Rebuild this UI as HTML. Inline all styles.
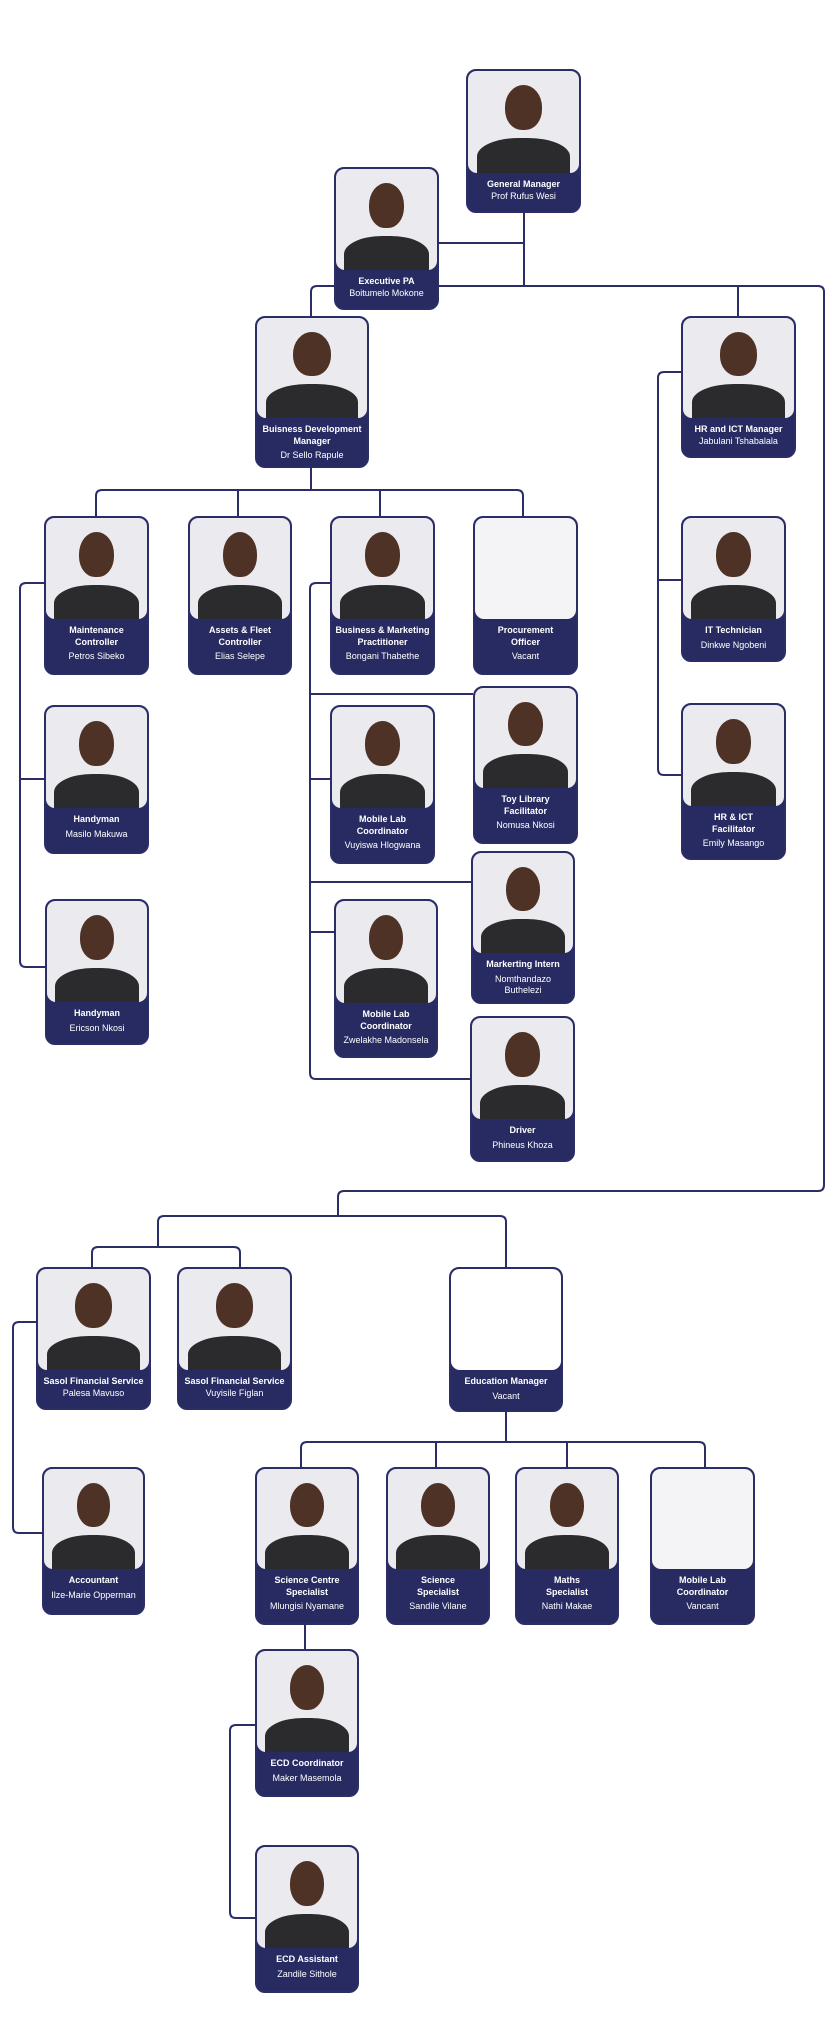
<!DOCTYPE html>
<html><head><meta charset="utf-8"><style>
html,body{margin:0;padding:0;background:#fff;}
body{width:838px;height:2030px;position:relative;overflow:hidden;font-family:"Liberation Sans",sans-serif;}
svg.l{position:absolute;left:0;top:0;}
.c{position:absolute;box-sizing:border-box;background:#282b62;border:2px solid #2b2e66;border-radius:10px;overflow:hidden;color:#fff;text-align:center;}
.p{position:relative;background:#ebebef;border-radius:8px 8px 9px 9px;overflow:hidden;}
.p.v{background:#f4f3f6;}
.p.w{background:#fff;}
.h{position:absolute;left:50%;top:14%;width:34%;height:44%;margin-left:-17%;background:#4e3226;border-radius:50% 50% 46% 46%;}
.b{position:absolute;left:8%;right:8%;bottom:-6%;height:40%;background:#2b2b2e;border-radius:45% 45% 0 0;}
.t{padding:6px 2px 0;font-size:9px;line-height:11.5px;}
.t b{display:block;}
.t span{display:block;margin-top:3px;}
</style></head><body>
<svg class="l" width="838" height="2030" fill="none" stroke="#2b2e66" stroke-width="2" stroke-linejoin="round">
<path d="M524 213 V286"/>
<path d="M439 243 H524"/>
<path d="M311 316 V292 Q311 286 317 286 H818 Q824 286 824 292 V1185 Q824 1191 818 1191 H344 Q338 1191 338 1197 V1216"/>
<path d="M738 286 V316"/>
<path d="M681 372 H664 Q658 372 658 378 V769 Q658 775 664 775 H681"/>
<path d="M658 580 H681"/>
<path d="M311 468 V490"/>
<path d="M96 516 V496 Q96 490 102 490 H517 Q523 490 523 496 V516"/>
<path d="M238 490 V516 M380 490 V516"/>
<path d="M44 583 H26 Q20 583 20 589 V961 Q20 967 26 967 H45"/>
<path d="M20 779 H44"/>
<path d="M330 583 H316 Q310 583 310 589 V1073 Q310 1079 316 1079 H470"/>
<path d="M310 694 H473 M310 779 H330 M310 882 H471 M310 932 H334"/>
<path d="M158 1247 V1222 Q158 1216 164 1216 H500 Q506 1216 506 1222 V1267"/>
<path d="M92 1267 V1253 Q92 1247 98 1247 H234 Q240 1247 240 1253 V1267"/>
<path d="M506 1412 V1442"/>
<path d="M301 1467 V1448 Q301 1442 307 1442 H699 Q705 1442 705 1448 V1467"/>
<path d="M436 1442 V1467 M567 1442 V1467"/>
<path d="M36 1322 H19 Q13 1322 13 1328 V1527 Q13 1533 19 1533 H42"/>
<path d="M305 1625 V1649"/>
<path d="M255 1725 H236 Q230 1725 230 1731 V1912 Q230 1918 236 1918 H255"/>
</svg>

<div class="c" style="left:466px;top:69px;width:115px;height:144px"><div class="p" style="height:102px"><i class="h"></i><i class="b"></i></div><div class="t"><b>General Manager</b>Prof Rufus Wesi</div></div>

<div class="c" style="left:334px;top:167px;width:105px;height:143px"><div class="p" style="height:101px"><i class="h"></i><i class="b"></i></div><div class="t"><b>Executive PA</b>Boitumelo Mokone</div></div>

<div class="c" style="left:255px;top:316px;width:114px;height:152px"><div class="p" style="height:100px"><i class="h"></i><i class="b"></i></div><div class="t"><b>Buisness Development Manager</b><span>Dr Sello Rapule</span></div></div>

<div class="c" style="left:681px;top:316px;width:115px;height:142px"><div class="p" style="height:100px"><i class="h"></i><i class="b"></i></div><div class="t"><b>HR and ICT Manager</b>Jabulani Tshabalala</div></div>

<div class="c" style="left:44px;top:516px;width:105px;height:159px"><div class="p" style="height:101px"><i class="h"></i><i class="b"></i></div><div class="t"><b>Maintenance<br>Controller</b><span>Petros Sibeko</span></div></div>

<div class="c" style="left:188px;top:516px;width:104px;height:159px"><div class="p" style="height:101px"><i class="h"></i><i class="b"></i></div><div class="t"><b>Assets &amp; Fleet<br>Controller</b><span>Elias Selepe</span></div></div>

<div class="c" style="left:330px;top:516px;width:105px;height:159px"><div class="p" style="height:101px"><i class="h"></i><i class="b"></i></div><div class="t"><b>Business &amp; Marketing<br>Practitioner</b><span>Bongani Thabethe</span></div></div>

<div class="c" style="left:473px;top:516px;width:105px;height:159px"><div class="p v" style="height:101px"></div><div class="t"><b>Procurement<br>Officer</b><span>Vacant</span></div></div>

<div class="c" style="left:681px;top:516px;width:105px;height:146px"><div class="p" style="height:101px"><i class="h"></i><i class="b"></i></div><div class="t"><b>IT Technician</b><span>Dinkwe Ngobeni</span></div></div>

<div class="c" style="left:681px;top:703px;width:105px;height:157px"><div class="p" style="height:101px"><i class="h"></i><i class="b"></i></div><div class="t"><b>HR &amp; ICT<br>Facilitator</b><span>Emily Masango</span></div></div>

<div class="c" style="left:44px;top:705px;width:105px;height:149px"><div class="p" style="height:101px"><i class="h"></i><i class="b"></i></div><div class="t"><b>Handyman</b><span>Masilo Makuwa</span></div></div>

<div class="c" style="left:45px;top:899px;width:104px;height:146px"><div class="p" style="height:101px"><i class="h"></i><i class="b"></i></div><div class="t"><b>Handyman</b><span>Ericson Nkosi</span></div></div>

<div class="c" style="left:473px;top:686px;width:105px;height:158px"><div class="p" style="height:100px"><i class="h"></i><i class="b"></i></div><div class="t"><b>Toy Library<br>Facilitator</b><span>Nomusa Nkosi</span></div></div>

<div class="c" style="left:330px;top:705px;width:105px;height:159px"><div class="p" style="height:101px"><i class="h"></i><i class="b"></i></div><div class="t"><b>Mobile Lab<br>Coordinator</b><span>Vuyiswa Hlogwana</span></div></div>

<div class="c" style="left:471px;top:851px;width:104px;height:153px"><div class="p" style="height:100px"><i class="h"></i><i class="b"></i></div><div class="t"><b>Markerting Intern</b><span>Nomthandazo<br>Buthelezi</span></div></div>

<div class="c" style="left:334px;top:899px;width:104px;height:159px"><div class="p" style="height:102px"><i class="h"></i><i class="b"></i></div><div class="t"><b>Mobile Lab<br>Coordinator</b><span>Zwelakhe Madonsela</span></div></div>

<div class="c" style="left:470px;top:1016px;width:105px;height:146px"><div class="p" style="height:101px"><i class="h"></i><i class="b"></i></div><div class="t"><b>Driver</b><span>Phineus Khoza</span></div></div>

<div class="c" style="left:36px;top:1267px;width:115px;height:143px"><div class="p" style="height:101px"><i class="h"></i><i class="b"></i></div><div class="t"><b>Sasol Financial Service</b>Palesa Mavuso</div></div>

<div class="c" style="left:177px;top:1267px;width:115px;height:143px"><div class="p" style="height:101px"><i class="h"></i><i class="b"></i></div><div class="t"><b>Sasol Financial Service</b>Vuyisile Figlan</div></div>

<div class="c" style="left:449px;top:1267px;width:114px;height:145px"><div class="p w" style="height:101px"></div><div class="t"><b>Education Manager</b><span>Vacant</span></div></div>

<div class="c" style="left:42px;top:1467px;width:103px;height:148px"><div class="p" style="height:100px"><i class="h"></i><i class="b"></i></div><div class="t"><b>Accountant</b><span>Ilze-Marie Opperman</span></div></div>

<div class="c" style="left:255px;top:1467px;width:104px;height:158px"><div class="p" style="height:100px"><i class="h"></i><i class="b"></i></div><div class="t"><b>Science Centre<br>Specialist</b><span>Mlungisi Nyamane</span></div></div>

<div class="c" style="left:386px;top:1467px;width:104px;height:158px"><div class="p" style="height:100px"><i class="h"></i><i class="b"></i></div><div class="t"><b>Science<br>Specialist</b><span>Sandile Vilane</span></div></div>

<div class="c" style="left:515px;top:1467px;width:104px;height:158px"><div class="p" style="height:100px"><i class="h"></i><i class="b"></i></div><div class="t"><b>Maths<br>Specialist</b><span>Nathi Makae</span></div></div>

<div class="c" style="left:650px;top:1467px;width:105px;height:158px"><div class="p v" style="height:100px"></div><div class="t"><b>Mobile Lab<br>Coordinator</b><span>Vancant</span></div></div>

<div class="c" style="left:255px;top:1649px;width:104px;height:148px"><div class="p" style="height:101px"><i class="h"></i><i class="b"></i></div><div class="t"><b>ECD Coordinator</b><span>Maker Masemola</span></div></div>

<div class="c" style="left:255px;top:1845px;width:104px;height:148px"><div class="p" style="height:101px"><i class="h"></i><i class="b"></i></div><div class="t"><b>ECD Assistant</b><span>Zandile Sithole</span></div></div>

</body></html>
